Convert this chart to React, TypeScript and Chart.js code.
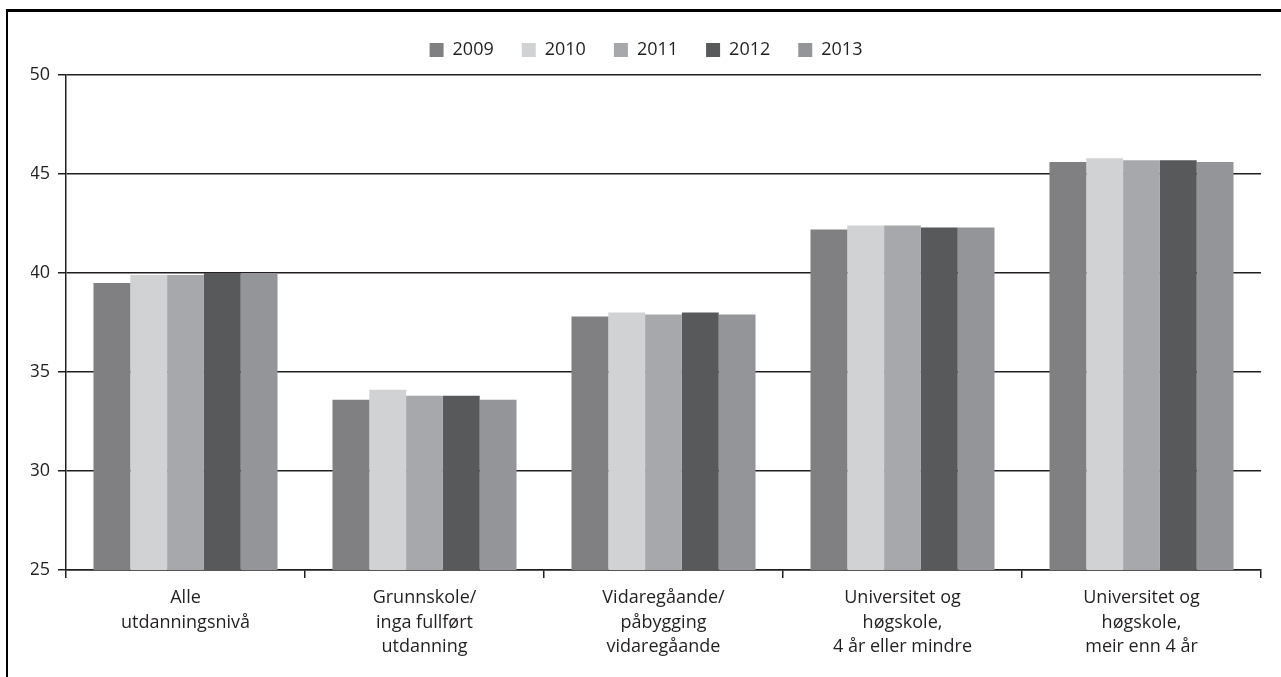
import React, { useEffect, useRef } from "react";
import { Chart, registerables } from "chart.js";

Chart.register(...registerables);

const categories: string[][] = [
  ["Alle", "utdanningsnivå"],
  ["Grunnskole/", "inga fullført", "utdanning"],
  ["Vidaregåande/", "påbygging", "vidaregåande"],
  ["Universitet og", "høgskole,", "4 år eller mindre"],
  ["Universitet og", "høgskole,", "meir enn 4 år"],
];

const years = ["2009", "2010", "2011", "2012", "2013"];

const values2009 = [39.5, 33.6, 37.8, 42.2, 45.6];
const values2010 = [39.9, 34.1, 38.0, 42.4, 45.8];
const values2011 = [39.9, 33.8, 37.9, 42.4, 45.7];
const values2012 = [40.0, 33.8, 38.0, 42.3, 45.7];
const values2013 = [40.0, 33.6, 37.9, 42.3, 45.6];

const seriesValues = [values2009, values2010, values2011, values2012, values2013];
const seriesColors = ["#808083", "#d1d2d4", "#a7a8ab", "#58595b", "#939598"];

const yMin = 25;
const yMax = 50;
const yStep = 5;

const FONT = "'Open Sans', 'DejaVu Sans', sans-serif";
const TEXT = "#231f20";

export default function App() {
  const canvasRef = useRef<HTMLCanvasElement | null>(null);

  useEffect(() => {
    document.body.style.margin = "0";
    const canvas = canvasRef.current;
    if (!canvas) return;

    const legendFit = {
      id: "legendFit",
      beforeInit(chart: any) {
        const orig = chart.legend.fit;
        chart.legend.fit = function () {
          orig.call(this);
          this.height = 62;
        };
      },
    };

    const chart = new Chart(canvas, {
      type: "bar",
      data: {
        labels: categories,
        datasets: years.map((y, i) => ({
          label: y,
          data: seriesValues[i],
          backgroundColor: seriesColors[i],
          borderWidth: 0,
          categoryPercentage: 0.77,
          barPercentage: 1.0,
        })),
      },
      plugins: [legendFit],
      options: {
        responsive: false,
        animation: false,
        layout: { padding: { top: 13, right: 20, bottom: 0, left: 31 } },
        plugins: {
          tooltip: { enabled: false },
          legend: {
            display: true,
            position: "top",
            align: "center",
            labels: {
              boxWidth: 14,
              boxHeight: 14,
              padding: 28,
              color: TEXT,
              font: { family: FONT, size: 18 },
            },
          },
        },
        scales: {
          x: {
            offset: true,
            grid: {
              display: true,
              offset: true,
              drawOnChartArea: false,
              drawTicks: true,
              tickLength: 8,
              color: "#231f20",
              lineWidth: 1.5,
            },
            border: { display: true, color: "#231f20", width: 1.5 },
            ticks: {
              color: TEXT,
              font: { family: FONT, size: 18, lineHeight: 1.36 },
              padding: 8,
              maxRotation: 0,
              autoSkip: false,
            },
            afterFit(scale: any) {
              scale.height = 107;
            },
          },
          y: {
            min: yMin,
            max: yMax,
            grid: {
              display: true,
              color: "#231f20",
              lineWidth: 1.5,
              tickLength: 8,
            },
            border: { display: true, color: "#231f20", width: 1.5 },
            ticks: {
              stepSize: yStep,
              color: TEXT,
              font: { family: FONT, size: 18 },
              padding: 8,
            },
            afterFit(scale: any) {
              scale.width = 35;
            },
          },
        },
      },
    });

    return () => chart.destroy();
  }, []);

  return (
    <div
      style={{
        position: "fixed",
        left: 0,
        top: 0,
        width: 1281,
        height: 677,
        overflow: "hidden",
        background: "#ffffff",
      }}
    >
      <div
        style={{
          position: "absolute",
          left: 6,
          top: 9,
          width: 1400,
          height: 800,
          borderTop: "3px solid #000",
          borderLeft: "2px solid #000",
        }}
      />
      <canvas
        ref={canvasRef}
        width={1281}
        height={677}
        style={{ position: "absolute", left: 0, top: 0, width: 1281, height: 677 }}
      />
    </div>
  );
}
